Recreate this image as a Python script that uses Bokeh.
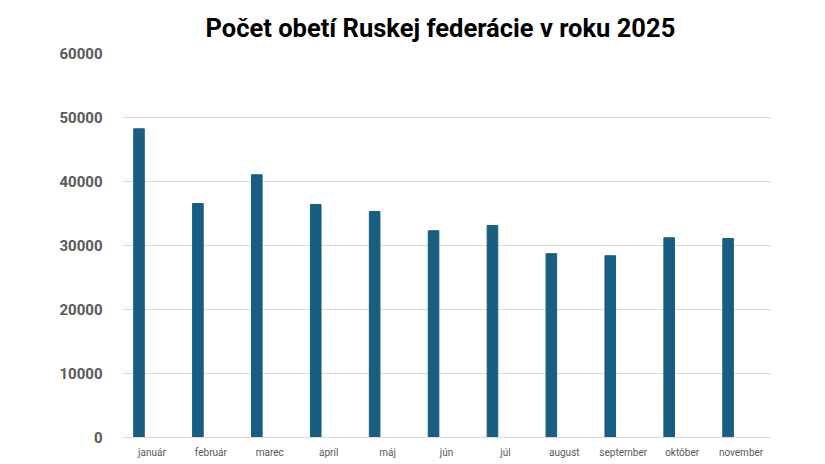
from bokeh.plotting import figure
from bokeh.models import FactorRange, Range1d, FixedTicker, ColumnDataSource
from bokeh.transform import dodge
from bokeh.embed import file_html
from bokeh.resources import INLINE

months = ["január", "február", "marec", "apríl", "máj", "jún", "júl",
          "august", "september", "október", "november"]
victims = [48230, 36550, 41050, 36400, 35320, 32300, 33130, 28720, 28400, 31220, 31100]
y_ticks = [0, 10000, 20000, 30000, 40000, 50000, 60000]

source = ColumnDataSource(data=dict(month=months, victims=victims))

p = figure(frame_width=648, frame_height=384, x_range=FactorRange(*months), y_range=Range1d(0, 60000),
           output_backend="svg", toolbar_location=None,
           title="Počet obetí Ruskej federácie v roku 2025",
           min_border_left=122, min_border_right=47, min_border_top=53, min_border_bottom=16)

p.vbar(x=dodge("month", -0.22, range=p.x_range), top="victims", width=0.18,
       source=source, color="#175e80")

p.title.align = "left"
p.title.text_font = "Roboto"
p.title.text_font_size = "25.5px"
p.title.text_font_style = "bold"
p.title.text_color = "#000000"
p.title.offset = 83
p.title.standoff = 21

p.outline_line_color = None
p.xgrid.grid_line_color = None
p.ygrid.grid_line_color = "#d9d9d9"
p.ygrid.grid_line_width = 1

p.yaxis.ticker = FixedTicker(ticks=y_ticks)
p.yaxis.axis_line_color = None
p.yaxis.major_tick_line_color = None
p.yaxis.minor_tick_line_color = None
p.yaxis.major_label_text_font = "Roboto"
p.yaxis.major_label_text_font_style = "bold"
p.yaxis.major_label_text_font_size = "15px"
p.yaxis.major_label_text_color = "#595959"
p.yaxis.major_label_standoff = 14

p.xaxis.axis_line_color = "#d9d9d9"
p.xaxis.major_tick_line_color = None
p.xaxis.minor_tick_line_color = None
p.xaxis.major_label_text_font = "Roboto"
p.xaxis.major_label_text_font_size = "10px"
p.xaxis.major_label_text_color = "#595959"
p.xaxis.major_label_standoff = 3

open("out.html", "w").write(file_html(p, INLINE))
